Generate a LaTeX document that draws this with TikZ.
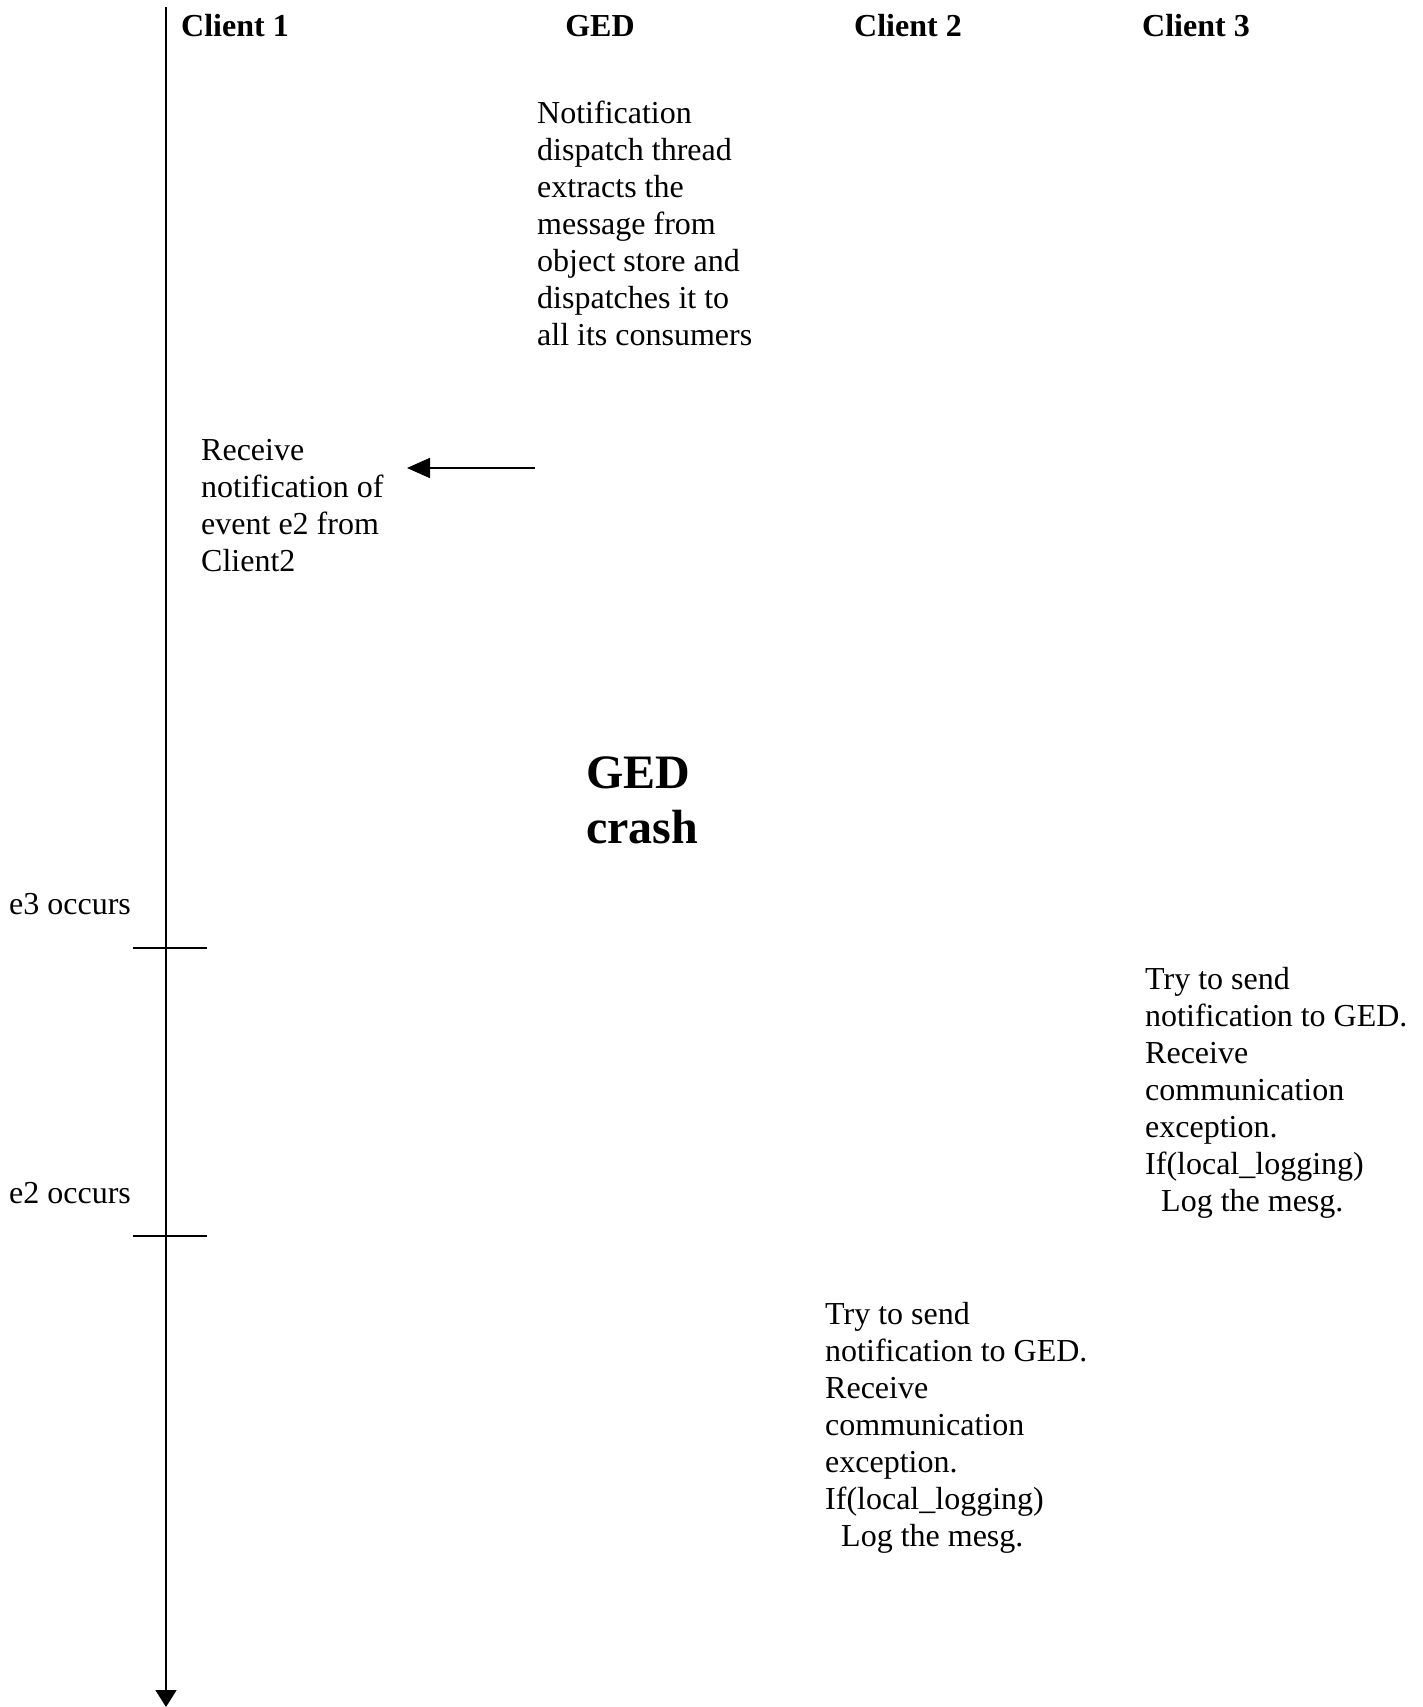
\documentclass[tikz,border=0pt]{standalone}
\usepackage{fontspec}
\setmainfont{Liberation Serif}
\usetikzlibrary{arrows.meta}
\begin{document}
\begin{tikzpicture}[x=1pt,y=-1pt,
  % multi-line blocks are placed by the baseline of their last line
  txt/.style={inner sep=0pt,anchor=base west,align=left,
    font=\fontsize{32}{37}\selectfont},
  head/.style={inner sep=0pt,anchor=base,font=\fontsize{32}{37}\selectfont\bfseries},
  big/.style={inner sep=0pt,anchor=base west,align=left,
    font=\fontsize{48}{55.5}\selectfont\bfseries},
  axis/.style={line width=1.6pt},
  msg/.style={line width=1.6pt,-{Triangle[length=23pt,width=20pt]}},
  tick/.style={line width=1.6pt}]
\useasboundingbox (0,0) rectangle (1422,1707);

% column headings
\node[head] (c1) at (235,37) {Client 1};
\node[head] (ged) at (600,37) {GED};
\node[head] (c2) at (908,37) {Client 2};
\node[head] (c3) at (1196,37) {Client 3};

% time axis of client 1
\coordinate (top) at (166,7);
\coordinate (bot) at (166,1707);
\draw[axis,-{Triangle[length=17pt,width=21pt]}] (top) -- (bot);

% event ticks
\coordinate (t3a) at (133,948);
\coordinate (t3b) at (207,948);
\coordinate (t2a) at (133,1236);
\coordinate (t2b) at (207,1236);
\draw[tick] (t3a) -- (t3b);
\draw[tick] (t2a) -- (t2b);
\node[txt] (e3) at (9,914) {e3 occurs};
\node[txt] (e2) at (9,1203) {e2 occurs};

% GED dispatch
\node[txt] (disp) at (537,345) {Notification\\dispatch thread\\extracts the\\message from\\object store and\\dispatches it to\\all its consumers};

% notification received by client 1
\node[txt] (recv) at (201,571) {Receive\\notification of\\event e2 from\\Client2};
\coordinate (from) at (535,468);
\coordinate (to) at (407,468);
\draw[msg] (from) -- (to);

% crash
\node[big] (crash) at (586,843.5) {GED\\crash};

% client 3 attempt
\node[txt] (try3) at (1145,1211) {Try to send\\notification to GED.\\Receive\\communication\\exception.\\If(local\_logging)\\\hspace*{16pt}Log the mesg.};

% client 2 attempt
\node[txt] (try2) at (825,1546) {Try to send\\notification to GED.\\Receive\\communication\\exception.\\If(local\_logging)\\\hspace*{16pt}Log the mesg.};
\end{tikzpicture}
\end{document}
